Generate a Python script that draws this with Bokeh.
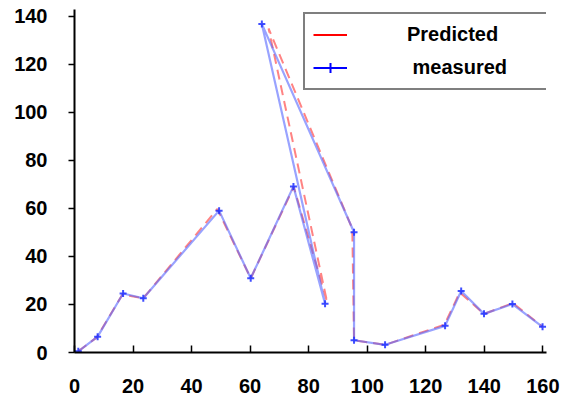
from bokeh.plotting import figure
from bokeh.models import FixedTicker, Legend, LegendItem, Range1d
from bokeh.embed import file_html
from bokeh.resources import INLINE

# measured data
meas_x = [1.3, 7.9, 16.6, 23.5, 49.4, 60.2, 74.8, 85.6, 64.0, 95.5, 95.5, 106.1, 126.6, 132.1, 139.9, 149.6, 159.9]
meas_y = [0.5, 6.6, 24.6, 22.6, 59.1, 30.9, 69.2, 20.3, 136.9, 50.1, 5.1, 3.2, 11.1, 25.6, 16.1, 20.2, 10.7]

# predicted data
pred_x = [1.3, 7.6, 16.4, 23.5, 48.8, 60.2, 74.9, 86.3, 66.3, 94.9, 95.5, 106.1, 126.4, 131.6, 139.9, 149.8, 159.9]
pred_y = [0.5, 6.3, 24.2, 22.6, 59.8, 30.9, 69.0, 21.0, 135.0, 51.6, 5.1, 3.2, 11.6, 25.0, 16.1, 20.6, 10.7]

x_ticks = [0, 20, 40, 60, 80, 100, 120, 140, 160]
y_ticks = [0, 20, 40, 60, 80, 100, 120, 140]

nan = float("nan")
FONT = "Liberation Sans"

p = figure(width=566, height=401, output_backend="svg", toolbar_location=None,
           x_range=Range1d(0, 161.25), y_range=Range1d(0, 142.9),
           min_border_left=74, min_border_right=20, min_border_top=9, min_border_bottom=49)
p.outline_line_color = None
p.background_fill_color = "white"
p.xgrid.visible = False
p.ygrid.visible = False

for ax in (p.xaxis[0], p.yaxis[0]):
    ax.axis_line_color = "black"
    ax.axis_line_width = 2
    ax.major_tick_line_color = "black"
    ax.major_tick_line_width = 1.5
    ax.minor_tick_line_color = None
    ax.major_label_text_font = FONT
    ax.major_label_text_font_style = "bold"
    ax.major_label_text_font_size = "20px"
    ax.major_label_text_color = "black"

p.xaxis.ticker = FixedTicker(ticks=x_ticks)
p.yaxis.ticker = FixedTicker(ticks=y_ticks)
p.xaxis.major_tick_in = 7
p.xaxis.major_tick_out = 0
p.xaxis.major_label_standoff = 26
p.yaxis.major_tick_in = 0
p.yaxis.major_tick_out = 6
p.yaxis.major_label_standoff = 21

# predicted line (dashed)
p.line(pred_x, pred_y, line_color="#ff5a5a", line_alpha=0.75, line_width=2, line_dash="10 6")
# measured line
p.line(meas_x, meas_y, line_color="#5566ff", line_alpha=0.6, line_width=2.2)
p.scatter(meas_x, meas_y, marker="cross", size=7, line_color="#1f2fff", line_alpha=0.85, line_width=2)

# legend-only glyphs (no visible data)
lg_red = p.line([nan], [nan], line_color="red", line_width=2)
lg_blue = p.line([nan], [nan], line_color="blue", line_width=2)
lg_cross = p.scatter([nan], [nan], marker="cross", size=20, line_color="blue", line_width=2)

legend = Legend(items=[LegendItem(label="Predicted", renderers=[lg_red]),
                       LegendItem(label=" measured", renderers=[lg_blue, lg_cross])],
                location=(229, 262))
legend.padding = 8
legend.spacing = 8
legend.glyph_height = 25
legend.label_height = 25
legend.glyph_width = 34
legend.label_standoff = 60
legend.label_width = 133
legend.label_text_font = FONT
legend.label_text_font_style = "bold"
legend.label_text_font_size = "20px"
legend.label_text_color = "black"
legend.border_line_color = "black"
legend.border_line_width = 2
legend.background_fill_color = "white"
legend.background_fill_alpha = 1.0
p.add_layout(legend)

open("out.html", "w").write(file_html(p, INLINE))
